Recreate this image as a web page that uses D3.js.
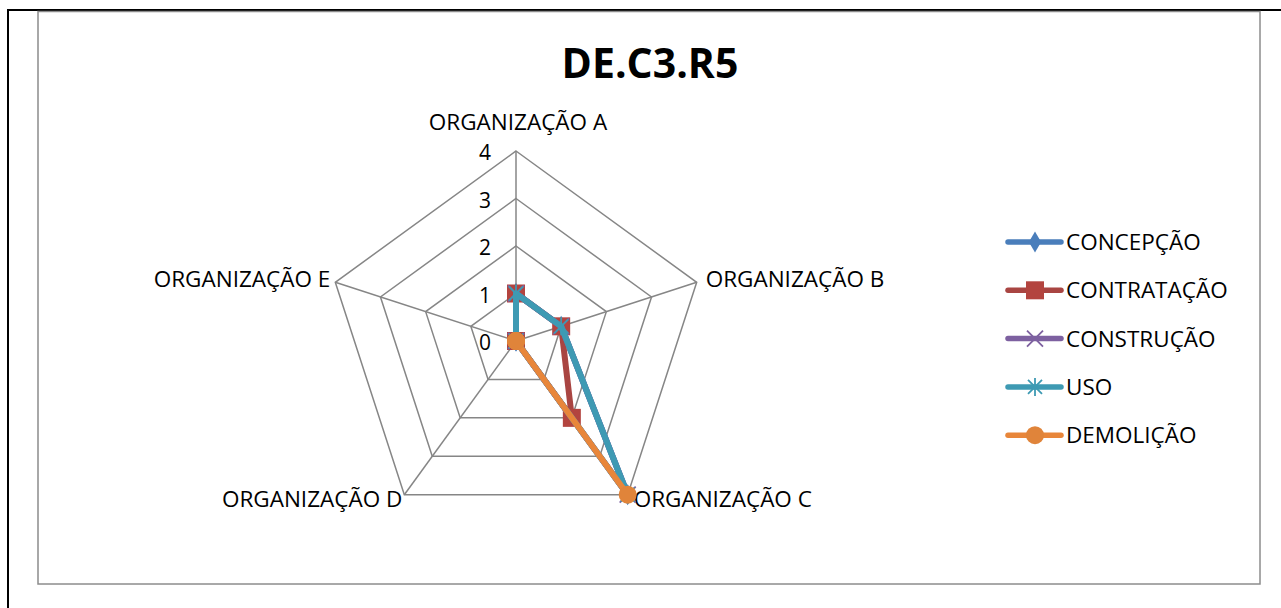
<!DOCTYPE html>
<meta charset="utf-8">
<script src="https://d3js.org/d3.v7.min.js"></script>
<style>
    body { margin: 0; background: white; }
    svg text { font-family: "Open Sans", sans-serif; fill: #000; }
</style>
<body>
<div id="chart"></div>
<script>
    // data
    var categories = ["ORGANIZAÇÃO A", "ORGANIZAÇÃO B", "ORGANIZAÇÃO C", "ORGANIZAÇÃO D", "ORGANIZAÇÃO E"];
    var seriesNames = ["CONCEPÇÃO", "CONTRATAÇÃO", "CONSTRUÇÃO", "USO", "DEMOLIÇÃO"];
    var concepcao   = [1, 1, 4, 0, 0];
    var contratacao = [1, 1, 2, 0, 0];
    var construcao  = [1, 1, 4, 0, 0];
    var uso         = [1, 1, 4, 0, 0];
    var demolicao   = [0, 0, 4, 0, 0];
    var ticks = [0, 1, 2, 3, 4];

    var seriesValues = [concepcao, contratacao, construcao, uso, demolicao];
    var lineColors = ["#4a7ebb", "#a94542", "#7d60a0", "#3e9ab3", "#e8863a"];
    var markerColors = ["#4a7ebb", "#b3443f", "#7d60a0", "#3e9ab3", "#e0843a"];
    var symbols = ["diamond", "square", "x", "star", "circle"];

    const width = 1281, height = 608;
    const cx = 516, cy = 341, R = 190;

    var svg = d3.select("#chart").append("svg")
        .attr("width", width).attr("height", height);

    // outer page border (black) and chart frame (gray)
    svg.append("line").attr("x1", 8).attr("x2", 8).attr("y1", 9).attr("y2", height)
        .attr("stroke", "#000").attr("stroke-width", 2);
    svg.append("line").attr("x1", 7).attr("x2", width).attr("y1", 10).attr("y2", 10)
        .attr("stroke", "#000").attr("stroke-width", 2);
    svg.append("rect").attr("x", 38).attr("y", 11.5).attr("width", 1222).attr("height", 572.5)
        .attr("fill", "white").attr("stroke", "#8c8c8c").attr("stroke-width", 1.5);

    svg.append("text").attr("x", 650).attr("y", 78)
        .attr("text-anchor", "middle")
        .style("font-size", "41px").style("font-weight", "bold")
        .text("DE.C3.R5");

    var r = d3.scaleLinear().domain([0, 4]).range([0, R]);
    var angle = d3.scalePoint().domain(categories).range([0, 2 * Math.PI * 4 / 5]);

    function px(cat, v) { return cx + r(v) * Math.sin(angle(cat)); }
    function py(cat, v) { return cy - r(v) * Math.cos(angle(cat)); }

    var grid = svg.append("g");
    // web rings
    ticks.slice(1).forEach(function (t) {
        grid.append("polygon")
            .attr("points", categories.map(c => px(c, t) + "," + py(c, t)).join(" "))
            .attr("fill", "none").attr("stroke", "#868686").attr("stroke-width", 1.5);
    });
    // spokes
    categories.forEach(function (c) {
        grid.append("line")
            .attr("x1", cx).attr("y1", cy)
            .attr("x2", px(c, 4)).attr("y2", py(c, 4))
            .attr("stroke", "#868686").attr("stroke-width", 1.5);
    });

    // tick labels
    ticks.forEach(function (t) {
        svg.append("text").attr("x", 491).attr("y", py(categories[0], t) + 9)
            .attr("text-anchor", "end").style("font-size", "21px").text(t);
    });

    // category labels
    var labelPos = [
        { dx: 2, dy: -21, anchor: "middle" },
        { dx: 9, dy: 5, anchor: "start" },
        { dx: 6, dy: 12, anchor: "start" },
        { dx: -2, dy: 12, anchor: "end" },
        { dx: -5, dy: 5, anchor: "end" }
    ];
    categories.forEach(function (c, i) {
        svg.append("text")
            .attr("x", px(c, 4) + labelPos[i].dx)
            .attr("y", py(c, 4) + labelPos[i].dy)
            .attr("text-anchor", labelPos[i].anchor)
            .style("font-size", "22.5px")
            .text(c);
    });

    function marker(g, type, x, y, color) {
        if (type === "diamond") {
            g.append("path").attr("d", d3.symbol().type(d3.symbolDiamond).size(130)())
                .attr("transform", "translate(" + x + "," + y + ")").attr("fill", color);
        } else if (type === "square") {
            g.append("rect").attr("x", x - 9).attr("y", y - 9).attr("width", 18).attr("height", 18)
                .attr("fill", color);
        } else if (type === "x") {
            g.append("path").attr("d", "M-8,-8L8,8M-8,8L8,-8")
                .attr("transform", "translate(" + x + "," + y + ")")
                .attr("stroke", color).attr("stroke-width", 1.8).attr("fill", "none");
        } else if (type === "star") {
            g.append("path").attr("d", "M-7,-7L7,7M-7,7L7,-7M0,-9L0,9")
                .attr("transform", "translate(" + x + "," + y + ")")
                .attr("stroke", color).attr("stroke-width", 1.8).attr("fill", "none");
        } else {
            g.append("circle").attr("cx", x).attr("cy", y).attr("r", 9).attr("fill", color);
        }
    }

    var line = d3.line().curve(d3.curveLinearClosed);
    seriesValues.forEach(function (vals, si) {
        var g = svg.append("g");
        var pts = categories.map((c, i) => [px(c, vals[i]), py(c, vals[i])]);
        g.append("path").attr("d", line(pts))
            .attr("fill", "none").attr("stroke", lineColors[si])
            .attr("stroke-width", 6).attr("stroke-linejoin", "round");
        pts.forEach(function (p) { marker(g, symbols[si], p[0], p[1], markerColors[si]); });
    });

    // legend
    var legend = svg.append("g");
    seriesNames.forEach(function (name, i) {
        var y = 242 + i * 48.3;
        legend.append("line").attr("x1", 1008).attr("x2", 1061).attr("y1", y).attr("y2", y)
            .attr("stroke", lineColors[i]).attr("stroke-width", 5.5).attr("stroke-linecap", "round");
        marker(legend, symbols[i], 1035, y, markerColors[i]);
        legend.append("text").attr("x", 1066).attr("y", y + 8)
            .style("font-size", "22.5px").text(name);
    });
</script>
</body>
